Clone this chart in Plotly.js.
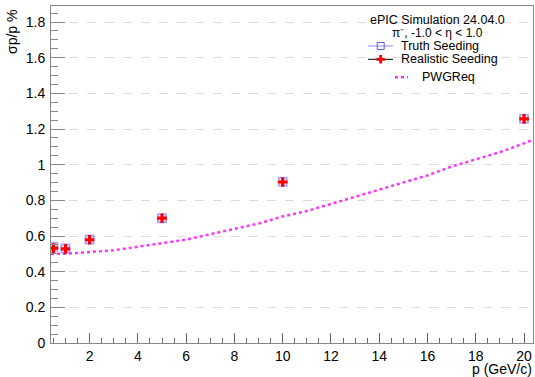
<!DOCTYPE html>
<html>
<head>
<meta charset="utf-8">
<script src="https://cdn.plot.ly/plotly-3.0.1.min.js"></script>
<style>html,body{margin:0;padding:0;background:#fff;}#chart{width:535px;height:377px;}</style>
</head>
<body>
<div id="chart"></div>
<script>
// Data
const momentum = [0.5, 1, 2, 5, 10, 20];
const truthSeeding = [0.540, 0.530, 0.580, 0.700, 0.905, 1.258];
const realisticSeeding = [0.532, 0.528, 0.579, 0.700, 0.903, 1.257];
const pwgP = [0.4, 1, 2, 3, 4, 5, 6, 7, 8, 9, 10, 11, 12, 13, 14, 15, 16, 17, 18, 19, 20, 20.37];
const pwgReq = [0.50, 0.50, 0.51, 0.52, 0.54, 0.56, 0.58, 0.61, 0.64, 0.67, 0.71, 0.74, 0.78, 0.82, 0.86, 0.90, 0.94, 0.99, 1.03, 1.07, 1.12, 1.14];

const FONT = 'Liberation Sans, Arial, sans-serif';
const W = 535, H = 377;
const L = 51, R = 2, T = 6, B = 34;
const pw = W - L - R, ph = H - T - B;
const px = x => (x - L) / pw;
const py = y => (H - B - y) / ph;

const traces = [
  {x: pwgP, y: pwgReq, mode: 'lines', line: {color: '#ff33ff', width: 2.5, dash: 'dot'}, hoverinfo: 'skip'},
  {x: momentum, y: truthSeeding, mode: 'markers',
   marker: {symbol: 'square-open', size: 8, color: 'rgba(100,100,255,0.55)', line: {width: 2, color: 'rgba(100,100,255,0.55)'}}},
  {x: momentum, y: realisticSeeding, mode: 'markers',
   marker: {symbol: 'cross', size: 8, color: '#ff0000', line: {width: 0}}},
  // legend symbols on an overlay axis in [0,1]
  {x: [px(368), px(393)], y: [py(46), py(46)], xaxis: 'x2', yaxis: 'y2', mode: 'lines', line: {color: '#8c8cff', width: 1}},
  {x: [px(380.7)], y: [py(46)], xaxis: 'x2', yaxis: 'y2', mode: 'markers',
   marker: {symbol: 'square-open', size: 7, color: '#5a5aff', line: {width: 1}}},
  {x: [px(368), px(393)], y: [py(59.3), py(59.3)], xaxis: 'x2', yaxis: 'y2', mode: 'lines', line: {color: '#000', width: 1}},
  {x: [px(380.7)], y: [py(59.3)], xaxis: 'x2', yaxis: 'y2', mode: 'markers',
   marker: {symbol: 'cross', size: 7, color: '#ff0000', line: {width: 0}}},
  {x: [px(395), px(408)], y: [py(77.3), py(77.3)], xaxis: 'x2', yaxis: 'y2', mode: 'lines', line: {color: '#ff33ff', width: 2.5, dash: 'dot'}}
];

const ann = (text, x, y, xa, extra) => Object.assign({text, xref: 'paper', yref: 'paper', x: px(x), y: py(y), xanchor: xa, yanchor: 'middle', showarrow: false, font: {family: FONT, size: 12.5, color: '#000'}}, extra || {});

const layout = {
  width: W, height: H,
  margin: {l: L, r: R, t: T, b: B, pad: 0},
  paper_bgcolor: '#fff', plot_bgcolor: '#fff',
  showlegend: false,
  font: {family: FONT, color: '#000'},
  xaxis: {
    range: [0.4, 20.37], tick0: 0, dtick: 2, ticks: 'inside', ticklen: 10, tickwidth: 1, tickcolor: '#666',
    minor: {dtick: 0.5, ticks: 'inside', ticklen: 5, tickcolor: '#666', showgrid: false},
    showgrid: false, zeroline: false, showline: true, linecolor: '#888', linewidth: 1, mirror: true,
    tickfont: {family: FONT, size: 14, color: '#000'}
  },
  yaxis: {
    range: [0, 1.89], tick0: 0, dtick: 0.2, ticks: 'inside', ticklen: 14, tickwidth: 1, tickcolor: '#888',
    minor: {dtick: 0.05, ticks: 'inside', ticklen: 7, tickcolor: '#888', showgrid: false},
    showgrid: true, gridcolor: '#dcdcdc', griddash: 'dash', gridwidth: 1,
    zeroline: false, showline: true, linecolor: '#888', linewidth: 1, mirror: true,
    tickfont: {family: FONT, size: 14, color: '#000'}, ticklabelstandoff: 2
  },
  xaxis2: {range: [0, 1], overlaying: 'x', visible: false, fixedrange: true},
  yaxis2: {range: [0, 1], overlaying: 'y', visible: false, fixedrange: true},
  annotations: [
    ann('ePIC Simulation 24.04.0', 437, 19.5, 'center'),
    ann('π⁻, -1.0 < η < 1.0', 437, 33, 'center', {font: {family: FONT, size: 12, color: '#000'}}),
    ann('Truth Seeding', 398.7, 46.5, 'left'),
    ann('Realistic Seeding', 398.7, 59.5, 'left'),
    ann('PWGReq', 420, 77.3, 'left'),
    ann('σp/p %', 12, 8, 'center', {yanchor: 'top', textangle: -90, font: {family: FONT, size: 14, color: '#000'}}),
    ann('p (GeV/c)', 534, 369, 'right', {font: {family: FONT, size: 14, color: '#000'}})
  ]
};

Plotly.newPlot('chart', traces, layout, {displayModeBar: false, staticPlot: true});
</script>
</body>
</html>
